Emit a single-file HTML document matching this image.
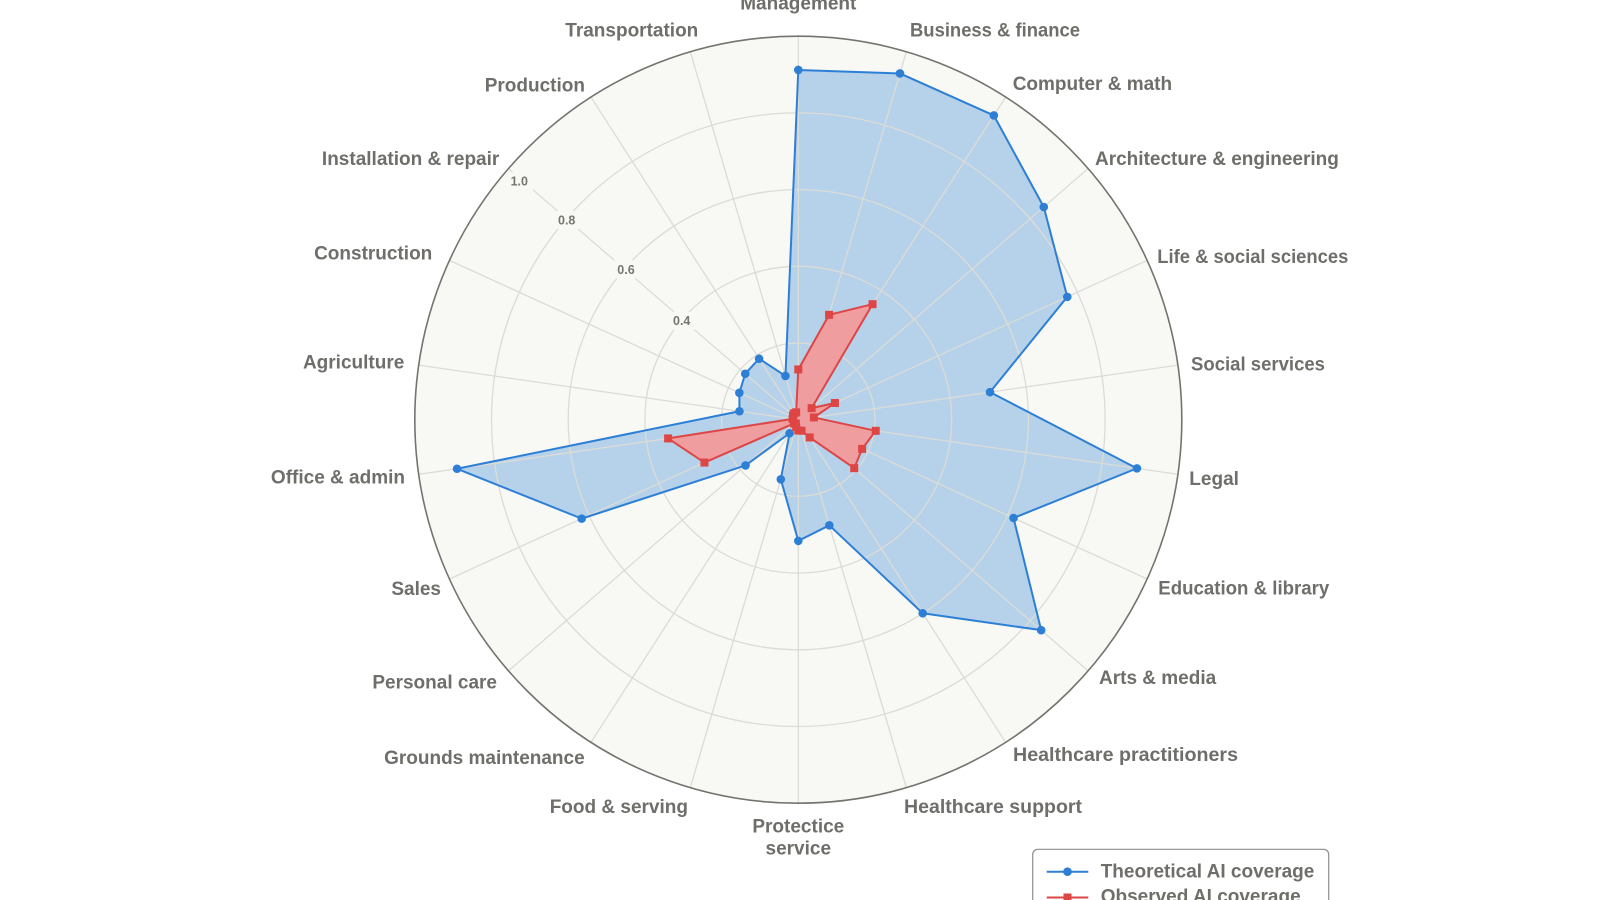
<!DOCTYPE html>
<html>
<head>
<meta charset="utf-8">
<style>
  html, body { margin: 0; padding: 0; background: #ffffff; }
  body { width: 1600px; height: 900px; overflow: hidden; }
  svg { display: block; }
  .lbl { font-family: "Liberation Sans", Arial, sans-serif; font-weight: bold; font-size: 19px; fill: #6e6e6a; }
  .tick { font-family: "Liberation Sans", Arial, sans-serif; font-weight: bold; font-size: 12.5px; fill: #77776f; }
</style>
</head>
<body>
<svg width="1600" height="900" viewBox="0 0 1600 900" xmlns="http://www.w3.org/2000/svg">
  <rect x="0" y="0" width="1600" height="900" fill="#ffffff"/>
  <!-- plot background -->
  <circle cx="798.3" cy="419.7" r="383.5" fill="#f8f8f4"/>

  <!-- blue fill -->
  <polygon fill="#b6d1ea" stroke="none" points="798.3,69.95 899.97,73.45 993.82,115.47 1043.78,206.99 1067.26,296.87 990.0,392.14 1136.9,468.38 1013.54,518.0 1041.18,630.15 922.7,613.27 829.31,525.3 798.3,540.89 780.8,479.31 789.59,433.25 745.55,465.41 581.67,518.63 457.04,468.76 739.47,411.24 739.35,392.78 745.26,373.74 759.11,358.73 785.44,375.91"/>

  <!-- grid -->
  <g stroke="#dcdcd6" stroke-width="1.3" fill="none">
    <circle cx="798.3" cy="419.7" r="76.7"/>
    <circle cx="798.3" cy="419.7" r="153.4"/>
    <circle cx="798.3" cy="419.7" r="230.1"/>
    <circle cx="798.3" cy="419.7" r="306.8"/>
    <line x1="798.3" y1="419.7" x2="798.3" y2="36.2"/>
    <line x1="798.3" y1="419.7" x2="906.34" y2="51.74"/>
    <line x1="798.3" y1="419.7" x2="1005.64" y2="97.08"/>
    <line x1="798.3" y1="419.7" x2="1088.13" y2="168.56"/>
    <line x1="798.3" y1="419.7" x2="1147.14" y2="260.39"/>
    <line x1="798.3" y1="419.7" x2="1177.90" y2="365.12"/>
    <line x1="798.3" y1="419.7" x2="1177.90" y2="474.28"/>
    <line x1="798.3" y1="419.7" x2="1147.14" y2="579.01"/>
    <line x1="798.3" y1="419.7" x2="1088.13" y2="670.84"/>
    <line x1="798.3" y1="419.7" x2="1005.64" y2="742.32"/>
    <line x1="798.3" y1="419.7" x2="906.34" y2="787.66"/>
    <line x1="798.3" y1="419.7" x2="798.3" y2="803.2"/>
    <line x1="798.3" y1="419.7" x2="690.26" y2="787.66"/>
    <line x1="798.3" y1="419.7" x2="590.96" y2="742.32"/>
    <line x1="798.3" y1="419.7" x2="508.47" y2="670.84"/>
    <line x1="798.3" y1="419.7" x2="449.46" y2="579.01"/>
    <line x1="798.3" y1="419.7" x2="418.70" y2="474.28"/>
    <line x1="798.3" y1="419.7" x2="418.70" y2="365.12"/>
    <line x1="798.3" y1="419.7" x2="449.46" y2="260.39"/>
    <line x1="798.3" y1="419.7" x2="508.47" y2="168.56"/>
    <line x1="798.3" y1="419.7" x2="590.96" y2="97.08"/>
    <line x1="798.3" y1="419.7" x2="690.26" y2="51.74"/>
  </g>

  <!-- red fill -->
  <polygon fill="#f09d9f" stroke="none" points="798.3,369.46 829.09,314.83 872.53,304.2 811.63,408.15 834.93,402.97 813.86,417.46 875.73,430.83 862.14,448.85 854.24,468.17 809.7,437.44 801.54,430.73 798.3,430.44 796.14,427.06 795.81,423.57 793.95,423.47 704.46,462.56 668.1,438.42 792.61,418.88 793.07,417.31 793.09,415.18 794.15,413.25 796.14,412.34"/>

  <!-- blue line -->
  <polygon fill="none" stroke="#2d7fd6" stroke-width="2" stroke-linejoin="round" points="798.3,69.95 899.97,73.45 993.82,115.47 1043.78,206.99 1067.26,296.87 990.0,392.14 1136.9,468.38 1013.54,518.0 1041.18,630.15 922.7,613.27 829.31,525.3 798.3,540.89 780.8,479.31 789.59,433.25 745.55,465.41 581.67,518.63 457.04,468.76 739.47,411.24 739.35,392.78 745.26,373.74 759.11,358.73 785.44,375.91"/>
  <g fill="#2d7fd6">
    <circle cx="798.3" cy="69.95" r="4.3"/>
    <circle cx="899.97" cy="73.45" r="4.3"/>
    <circle cx="993.82" cy="115.47" r="4.3"/>
    <circle cx="1043.78" cy="206.99" r="4.3"/>
    <circle cx="1067.26" cy="296.87" r="4.3"/>
    <circle cx="990.0" cy="392.14" r="4.3"/>
    <circle cx="1136.9" cy="468.38" r="4.3"/>
    <circle cx="1013.54" cy="518.0" r="4.3"/>
    <circle cx="1041.18" cy="630.15" r="4.3"/>
    <circle cx="922.7" cy="613.27" r="4.3"/>
    <circle cx="829.31" cy="525.3" r="4.3"/>
    <circle cx="798.3" cy="540.89" r="4.3"/>
    <circle cx="780.8" cy="479.31" r="4.3"/>
    <circle cx="789.59" cy="433.25" r="4.3"/>
    <circle cx="745.55" cy="465.41" r="4.3"/>
    <circle cx="581.67" cy="518.63" r="4.3"/>
    <circle cx="457.04" cy="468.76" r="4.3"/>
    <circle cx="739.47" cy="411.24" r="4.3"/>
    <circle cx="739.35" cy="392.78" r="4.3"/>
    <circle cx="745.26" cy="373.74" r="4.3"/>
    <circle cx="759.11" cy="358.73" r="4.3"/>
    <circle cx="785.44" cy="375.91" r="4.3"/>
  </g>

  <!-- red line -->
  <polygon fill="none" stroke="#dc4646" stroke-width="2" stroke-linejoin="round" points="798.3,369.46 829.09,314.83 872.53,304.2 811.63,408.15 834.93,402.97 813.86,417.46 875.73,430.83 862.14,448.85 854.24,468.17 809.7,437.44 801.54,430.73 798.3,430.44 796.14,427.06 795.81,423.57 793.95,423.47 704.46,462.56 668.1,438.42 792.61,418.88 793.07,417.31 793.09,415.18 794.15,413.25 796.14,412.34"/>
  <g fill="#de4545">
    <rect x="794.3" y="365.46" width="8" height="8"/>
    <rect x="825.09" y="310.83" width="8" height="8"/>
    <rect x="868.53" y="300.2" width="8" height="8"/>
    <rect x="807.63" y="404.15" width="8" height="8"/>
    <rect x="830.93" y="398.97" width="8" height="8"/>
    <rect x="809.86" y="413.46" width="8" height="8"/>
    <rect x="871.73" y="426.83" width="8" height="8"/>
    <rect x="858.14" y="444.85" width="8" height="8"/>
    <rect x="850.24" y="464.17" width="8" height="8"/>
    <rect x="805.7" y="433.44" width="8" height="8"/>
    <rect x="797.54" y="426.73" width="8" height="8"/>
    <rect x="794.3" y="426.44" width="8" height="8"/>
    <rect x="792.14" y="423.06" width="8" height="8"/>
    <rect x="791.81" y="419.57" width="8" height="8"/>
    <rect x="789.95" y="419.47" width="8" height="8"/>
    <rect x="700.46" y="458.56" width="8" height="8"/>
    <rect x="664.1" y="434.42" width="8" height="8"/>
    <rect x="788.61" y="414.88" width="8" height="8"/>
    <rect x="789.07" y="413.31" width="8" height="8"/>
    <rect x="789.09" y="411.18" width="8" height="8"/>
    <rect x="790.15" y="409.25" width="8" height="8"/>
    <rect x="792.14" y="408.34" width="8" height="8"/>
  </g>

  <!-- outer spine -->
  <circle cx="798.3" cy="419.7" r="383.5" fill="none" stroke="#74746f" stroke-width="1.6"/>

  <!-- radial tick labels -->
  <g fill="#f8f8f4">
    <rect x="506" y="172" width="27" height="18"/>
    <rect x="553.5" y="211" width="27" height="18"/>
    <rect x="612.5" y="260.3" width="27" height="18"/>
    <rect x="668.2" y="311.7" width="27" height="18"/>
  </g>
  <text class="tick" x="519.3" y="185.5" text-anchor="middle">1.0</text>
  <text class="tick" x="566.7" y="224.5" text-anchor="middle">0.8</text>
  <text class="tick" x="626" y="273.8" text-anchor="middle">0.6</text>
  <text class="tick" x="681.7" y="325.2" text-anchor="middle">0.4</text>

  <!-- category labels -->
  <text class="lbl" x="798.3" y="9.5" text-anchor="middle">Management</text>
  <text class="lbl" x="910" y="36.7" textLength="170" lengthAdjust="spacingAndGlyphs">Business &amp; finance</text>
  <text class="lbl" x="1012.7" y="90">Computer &amp; math</text>
  <text class="lbl" x="1095" y="165">Architecture &amp; engineering</text>
  <text class="lbl" x="1157.3" y="263" textLength="191" lengthAdjust="spacingAndGlyphs">Life &amp; social sciences</text>
  <text class="lbl" x="1191" y="370.5" textLength="134" lengthAdjust="spacingAndGlyphs">Social services</text>
  <text class="lbl" x="1189.3" y="485">Legal</text>
  <text class="lbl" x="1158.3" y="594.5" textLength="171" lengthAdjust="spacingAndGlyphs">Education &amp; library</text>
  <text class="lbl" x="1099" y="684">Arts &amp; media</text>
  <text class="lbl" x="1013" y="761" textLength="225" lengthAdjust="spacingAndGlyphs">Healthcare practitioners</text>
  <text class="lbl" x="904" y="813" textLength="178" lengthAdjust="spacingAndGlyphs">Healthcare support</text>
  <text class="lbl" x="798.3" y="832.3" text-anchor="middle">Protectice</text>
  <text class="lbl" x="798.3" y="854.5" text-anchor="middle">service</text>
  <text class="lbl" x="688" y="813" text-anchor="end">Food &amp; serving</text>
  <text class="lbl" x="584.7" y="764" text-anchor="end">Grounds maintenance</text>
  <text class="lbl" x="497" y="688.5" text-anchor="end">Personal care</text>
  <text class="lbl" x="441" y="595" text-anchor="end">Sales</text>
  <text class="lbl" x="405" y="483.3" text-anchor="end">Office &amp; admin</text>
  <text class="lbl" x="404.3" y="368.3" text-anchor="end">Agriculture</text>
  <text class="lbl" x="432.3" y="259.3" text-anchor="end">Construction</text>
  <text class="lbl" x="499.3" y="165" text-anchor="end">Installation &amp; repair</text>
  <text class="lbl" x="585" y="91.7" text-anchor="end">Production</text>
  <text class="lbl" x="698.3" y="36.7" text-anchor="end">Transportation</text>

  <!-- legend -->
  <rect x="1032.7" y="849.3" width="296" height="80" rx="5" ry="5" fill="#ffffff" stroke="#8e8e8a" stroke-width="1.2"/>
  <line x1="1046.7" y1="871.7" x2="1088.3" y2="871.7" stroke="#2d7fd6" stroke-width="2"/>
  <circle cx="1067.5" cy="871.7" r="4.3" fill="#2d7fd6"/>
  <text class="lbl" x="1100.7" y="877.3">Theoretical AI coverage</text>
  <line x1="1046.7" y1="897.5" x2="1088.3" y2="897.5" stroke="#dc4646" stroke-width="2"/>
  <rect x="1063.5" y="893.5" width="8" height="8" fill="#de4545"/>
  <text class="lbl" x="1100.7" y="902.5">Observed AI coverage</text>
</svg>
</body>
</html>
